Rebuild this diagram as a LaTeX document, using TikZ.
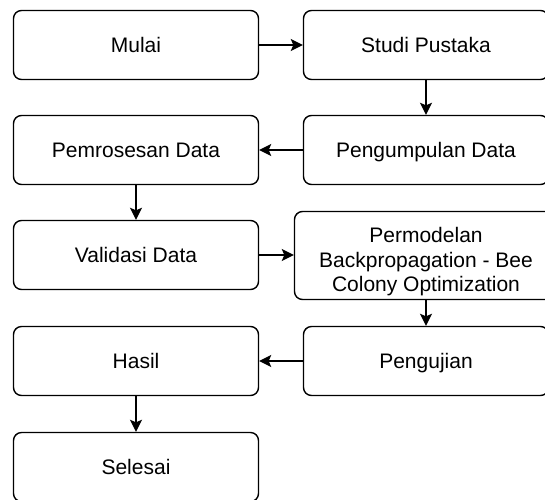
\documentclass[tikz,border=0pt]{standalone}
\usepackage{fontspec}
\setmainfont{Liberation Sans}
\usetikzlibrary{arrows.meta}

\begin{document}
\begin{tikzpicture}[x=1pt,y=-1pt,
  stepbox/.style={draw, line width=1.4pt, rounded corners=8pt,
    minimum width=245pt, minimum height=69pt, inner sep=2pt,
    align=center, font=\fontsize{21}{24.5}\selectfont},
  oneline/.style={stepbox, text height=19pt, text depth=3.5pt},
  label text/.style={align=center, inner sep=0pt, font=\fontsize{21}{24.5}\selectfont},
  flow/.style={draw, line width=1.4pt,
    -{Stealth[length=12pt, width=12pt, inset=2.5pt]}}]
  \useasboundingbox (0,0) rectangle (545,499);

  % left column
  \node[oneline] (mulai)   at (136,45)  {Mulai};
  \node[oneline] (proses)  at (136,150) {Pemrosesan Data};
  \node[oneline] (valid)   at (136,255) {Validasi Data};
  \node[oneline] (hasil)   at (136,361) {Hasil};
  \node[oneline] (selesai) at (136,467) {Selesai};

  % right column
  \node[oneline] (studi)   at (426,45)  {Studi Pustaka};
  \node[oneline] (kumpul)  at (426,150) {Pengumpulan Data};
  \node[stepbox, minimum width=263pt, minimum height=88pt]
                 (model)   at (426,255.5) {};
  \node[label text] (modeltext) at (426,262)
    {Permodelan\\Backpropagation - Bee\\Colony Optimization};
  \node[oneline] (uji)     at (426,361) {Pengujian};

  % process flow
  \draw[flow] (mulai.east) -- (studi.west);
  \draw[flow] (studi.south) -- (kumpul.north);
  \draw[flow] (kumpul.west) -- (proses.east);
  \draw[flow] (proses.south) -- (valid.north);
  \draw[flow] (valid.east) -- (valid.east -| model.west);
  \draw[flow] (model.south) -- (uji.north);
  \draw[flow] (uji.west) -- (hasil.east);
  \draw[flow] (hasil.south) -- (selesai.north);
\end{tikzpicture}
\end{document}
